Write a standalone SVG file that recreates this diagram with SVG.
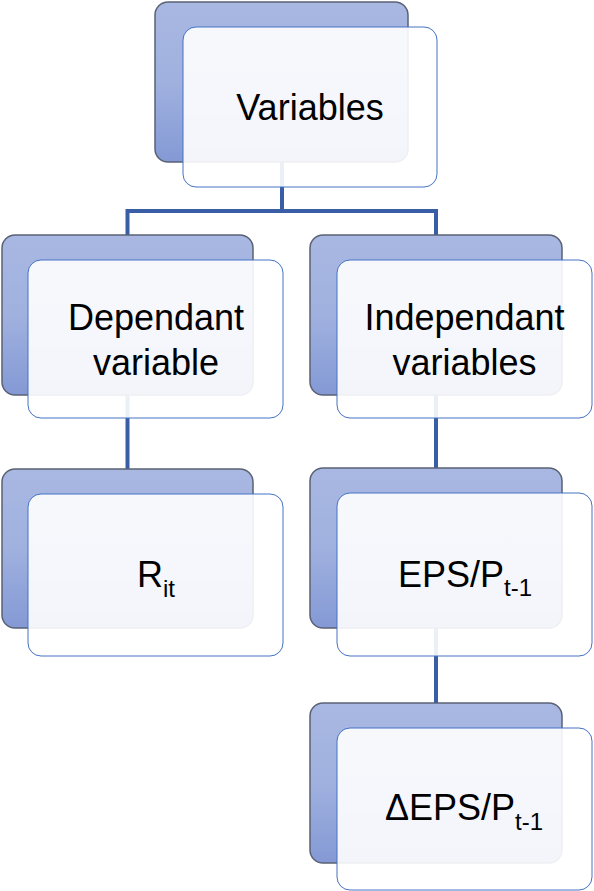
<svg xmlns="http://www.w3.org/2000/svg" width="594" height="891" viewBox="0 0 594 891">
<defs>
<linearGradient id="bg" x1="0" y1="0" x2="0" y2="1">
<stop offset="0" stop-color="#a9b8e2"/>
<stop offset="0.5" stop-color="#a0b1df"/>
<stop offset="1" stop-color="#8499d5"/>
</linearGradient>
<style>
.back{fill:url(#bg);stroke:#5a6274;stroke-width:1.5}
.front{fill:#ffffff;fill-opacity:0.9;stroke:#4472c4;stroke-width:1}
.conn{stroke:#3a5ea6;stroke-width:4;fill:none}
.t{font-family:"Liberation Sans",Arial,sans-serif;font-size:36px;fill:#000;text-anchor:middle}
.sub{font-size:24px}
</style>
</defs>
<rect width="594" height="891" fill="#ffffff"/>
<g id="connectors">
<path class="conn" d="M282 162 V211 M127.5 211 H436 M127.5 209 V235 M436 209 V235"/>
<path class="conn" d="M127.5 395 V469"/>
<path class="conn" d="M436 395 V468"/>
<path class="conn" d="M436 628 V703"/>
</g>
<g id="variables">
<rect class="back" x="155" y="2" width="253" height="160" rx="13"/>
<rect class="front" x="183" y="27" width="254" height="160" rx="13"/>
<text class="t" x="310" y="120">Variables</text>
</g>
<g id="dependant">
<rect class="back" x="2" y="235" width="251" height="160" rx="13"/>
<rect class="front" x="28" y="260" width="255" height="158" rx="13"/>
<text class="t" x="156" y="330">Dependant</text>
<text class="t" x="156" y="375">variable</text>
</g>
<g id="independant">
<rect class="back" x="310" y="235" width="252" height="160" rx="13"/>
<rect class="front" x="337" y="260" width="255" height="158" rx="13"/>
<text class="t" x="464.5" y="330">Independant</text>
<text class="t" x="464.5" y="375">variables</text>
</g>
<g id="rit">
<rect class="back" x="2" y="469" width="251" height="159" rx="13"/>
<rect class="front" x="28" y="494" width="255" height="162" rx="13"/>
<text class="t" x="156" y="587">R<tspan class="sub" dy="10">it</tspan></text>
</g>
<g id="eps">
<rect class="back" x="310" y="468" width="252" height="160" rx="13"/>
<rect class="front" x="337" y="493" width="255" height="163" rx="13"/>
<text class="t" x="465" y="587">EPS/P<tspan class="sub" dy="9">t-1</tspan></text>
</g>
<g id="deltaeps">
<rect class="back" x="310" y="703" width="252" height="160" rx="13"/>
<rect class="front" x="337" y="728" width="255" height="162" rx="13"/>
<text class="t" x="464" y="820">ΔEPS/P<tspan class="sub" dy="10">t-1</tspan></text>
</g>
</svg>
